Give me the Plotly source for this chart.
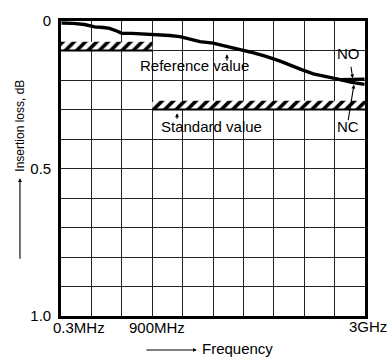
import plotly.graph_objects as go

# Insertion loss vs frequency (MHz), common trace up to the NO/NC split
freq_common = [5, 120, 233, 332, 420, 480, 550, 600, 700, 777, 896, 977, 1075, 1173,
               1270, 1371, 1500, 1619, 1767, 1866, 2015, 2163, 2260, 2361, 2490, 2658, 2757]
loss_common = [0.007, 0.008, 0.012, 0.020, 0.022, 0.025, 0.034, 0.042, 0.042, 0.043,
               0.045, 0.045, 0.049, 0.053, 0.062, 0.070, 0.075, 0.086, 0.097, 0.105,
               0.119, 0.136, 0.150, 0.163, 0.179, 0.191, 0.199]
freq_no = [2757, 2856, 2995]
loss_no = [0.199, 0.197, 0.197]
freq_nc = [2757, 2856, 2995]
loss_nc = [0.199, 0.207, 0.215]

# Limit bands: (start MHz, end MHz, limit dB)
ref_band = (0, 900, 0.10)
std_band = (900, 3000, 0.30)
band_depth = 0.03

x_tick_vals = [0, 900, 3000]
x_tick_text = ["0.3MHz", "900MHz", "3GHz"]
y_tick_text = {0.0: "0", 0.5: "0.5", 1.0: "1.0"}

FONT = "Liberation Sans, Arial, Helvetica, sans-serif"
fig = go.Figure()

for x0, x1, lim in (ref_band, std_band):
    fig.add_trace(go.Scatter(
        x=[x0, x1, x1, x0, x0], y=[lim, lim, lim - band_depth, lim - band_depth, lim],
        mode="lines", fill="toself", line=dict(width=0),
        fillcolor="white",
        fillpattern=dict(shape="/", fgcolor="black", bgcolor="white", size=8,
                         solidity=0.45, fgopacity=1),
        hoverinfo="skip", showlegend=False))
    fig.add_trace(go.Scatter(x=[x0, x1], y=[lim, lim], mode="lines",
                             line=dict(color="black", width=2.2), showlegend=False))

for xs, ys in ((freq_common, loss_common), (freq_no, loss_no), (freq_nc, loss_nc)):
    fig.add_trace(go.Scatter(x=xs, y=ys, mode="lines",
                             line=dict(color="black", width=3.4), showlegend=False))

ann = []
def text(x, y, s, size=15, **kw):
    d = dict(x=x, y=y, text=s, showarrow=False, xanchor="center", yanchor="middle",
             font=dict(size=size, color="black", family=FONT))
    d.update(kw)
    ann.append(d)

def arrow(x, y, ax, ay, **kw):
    d = dict(x=x, y=y, ax=ax, ay=ay, text="", showarrow=True, arrowhead=2,
             arrowsize=0.7, arrowwidth=1.1, arrowcolor="black")
    d.update(kw)
    ann.append(d)

text(1322, 0.169, "Reference value", yshift=5)
arrow(1638, 0.113, 0, 8)
text(1490, 0.374, "Standard value", yshift=5)
arrow(1145, 0.313, 0, 7)
text(2839, 0.128, "NO", yshift=5)
arrow(2879, 0.194, -2, -13)
text(2832, 0.371, "NC", yshift=4)
arrow(2891, 0.216, -6, 37)

# x tick labels
text(x_tick_vals[0], 1.0, x_tick_text[0], xanchor="left", yanchor="top", xshift=-10, yshift=-1)
text(x_tick_vals[1], 1.0, x_tick_text[1], yanchor="top", xshift=5, yshift=-1)
text(x_tick_vals[2], 1.0, x_tick_text[2], yanchor="top", xshift=3, yshift=0)

# axis titles with direction arrows
text(-0.135, 0.645, "Insertion loss, dB", size=12, xref="paper", yref="paper", textangle=-90)
arrow(-0.135, 0.467, 0, 82, xref="paper", yref="paper")
text(0.579, -0.115, "Frequency", xref="paper", yref="paper", yshift=1)
arrow(0.447, -0.115, -52, 0, xref="paper", yref="paper")

fig.update_layout(
    width=387, height=360,
    margin=dict(l=61, r=22, t=14, b=44),
    paper_bgcolor="white", plot_bgcolor="white",
    font=dict(family=FONT, size=15, color="black"),
    annotations=ann,
    xaxis=dict(range=[0, 3000], tickvals=list(range(0, 3001, 300)),
               ticktext=[""] * 11, showgrid=True, gridcolor="#222", gridwidth=1.4,
               showline=True, linecolor="black", linewidth=2.6, mirror=True,
               zeroline=False, ticks=""),
    yaxis=dict(range=[1.0, 0.0], tickvals=[round(i * 0.1, 1) for i in range(11)],
               ticktext=[y_tick_text.get(round(i * 0.1, 1), "") for i in range(11)],
               showgrid=True, gridcolor="#222", gridwidth=1.4,
               showline=True, linecolor="black", linewidth=2.6, mirror=True,
               zeroline=False, ticks="", ticklabelstandoff=4,
               tickfont=dict(size=15)),
)

fig.write_html("out.html")
